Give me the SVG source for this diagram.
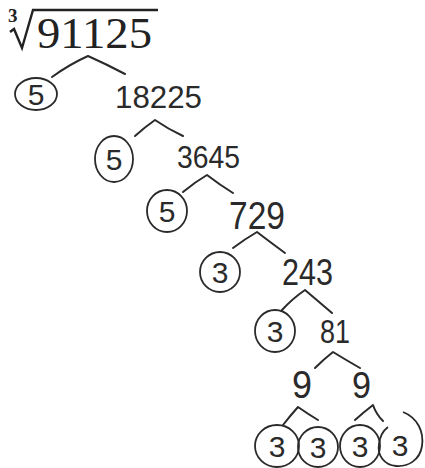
<svg xmlns="http://www.w3.org/2000/svg" width="425" height="468" viewBox="0 0 425 468">
<style>
.hand{font-family:"Liberation Sans","DejaVu Sans",sans-serif;fill:#2a2a2a}
.c{fill:none;stroke:#2a2a2a;stroke-width:1.8}
.br{fill:none;stroke:#2a2a2a;stroke-width:2;stroke-linecap:round;stroke-linejoin:round}
.cd{font-family:"Liberation Sans","DejaVu Sans",sans-serif;fill:#2a2a2a;font-size:30px;text-anchor:middle}
</style>
<rect width="425" height="468" fill="#ffffff"/>
<g id="root">
<text x="8" y="22" font-family="Liberation Serif, serif" font-weight="bold" font-size="19" fill="#222">3</text>
<path d="M10,32 L14,29 L22,48 L33,10 L158,10" fill="none" stroke="#222" stroke-width="2.4"/>
<text x="37" y="48" font-family="Liberation Serif, serif" font-size="44" textLength="115" lengthAdjust="spacingAndGlyphs" fill="#222">91125</text>
</g>
<g id="connectors">
<path class="br" d="M52,77 Q70,64 88,56 Q106,64 125,74"/>
<path class="br" d="M135,136 Q145,127 155,120 Q168,129 183,136"/>
<path class="br" d="M183,192 Q195,182 207,175 Q220,185 233,193"/>
<path class="br" d="M233,248 Q245,239 257,232 Q270,242 285,253"/>
<path class="br" d="M282,310 Q292,299 305,290 Q318,301 332,313"/>
<path class="br" d="M315,368 Q324,359 333,352 Q346,360 360,368"/>
<path class="br" d="M283,425 Q290,416 298,407 Q308,414 318,420"/>
<path class="br" d="M355,420 Q364,412 373,405 Q376,414 383,421"/>
</g>
<g id="n5a"><ellipse class="c" cx="36" cy="94" rx="21" ry="16"/><text class="cd" x="36" y="105">5</text></g>
<g id="n18225"><text class="hand" x="115" y="108" font-size="31" textLength="87" lengthAdjust="spacingAndGlyphs">18225</text></g>
<g id="n5b"><ellipse class="c" cx="114" cy="159" rx="19" ry="23"/><text class="cd" x="114" y="170">5</text></g>
<g id="n3645"><text class="hand" x="177" y="168" font-size="32" textLength="63" lengthAdjust="spacingAndGlyphs">3645</text></g>
<g id="n5c"><ellipse class="c" cx="167" cy="211" rx="20" ry="21"/><text class="cd" x="167" y="222">5</text></g>
<g id="n729"><text class="hand" x="229" y="229" font-size="38" textLength="56" lengthAdjust="spacingAndGlyphs">729</text></g>
<g id="n3a"><ellipse class="c" cx="220" cy="272" rx="20" ry="20"/><text class="cd" x="220" y="283">3</text></g>
<g id="n243"><text class="hand" x="282" y="285" font-size="36" textLength="51" lengthAdjust="spacingAndGlyphs">243</text></g>
<g id="n3b"><ellipse class="c" cx="275" cy="331" rx="20" ry="21"/><text class="cd" x="275" y="342">3</text></g>
<g id="n81"><text class="hand" x="320" y="343" font-size="34" textLength="30" lengthAdjust="spacingAndGlyphs">81</text></g>
<g id="n9a"><text class="hand" x="292" y="398" font-size="38" textLength="20" lengthAdjust="spacingAndGlyphs">9</text></g>
<g id="n9b"><text class="hand" x="352" y="398" font-size="36" textLength="19" lengthAdjust="spacingAndGlyphs">9</text></g>
<g id="n3c"><ellipse class="c" cx="277" cy="446" rx="22" ry="21"/><text class="cd" x="277" y="457">3</text></g>
<g id="n3d"><ellipse class="c" cx="318" cy="447" rx="20" ry="20"/><text class="cd" x="318" y="458">3</text></g>
<g id="n3e"><ellipse class="c" cx="360" cy="446" rx="20" ry="21"/><text class="cd" x="360" y="457">3</text></g>
<g id="n3f"><path class="c" d="M403,412 C418,418 424,432 422,446 C420,460 408,467 396,466 C384,465 377,455 379,444 C380,436 384,430 388,427"/><text class="cd" x="400" y="456">3</text></g>
</svg>
